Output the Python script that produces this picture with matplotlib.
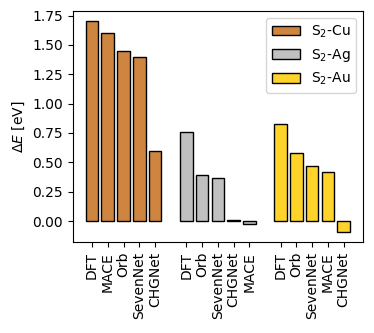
import numpy as np
import matplotlib
matplotlib.use('Agg')
import matplotlib.pyplot as plt

# model order differs per substrate (sorted by value)
cu_models = ['DFT', 'MACE', 'Orb', 'SevenNet', 'CHGNet']
cu_vals = [1.70, 1.60, 1.45, 1.40, 0.60]

ag_models = ['DFT', 'Orb', 'SevenNet', 'CHGNet', 'MACE']
ag_vals = [0.755, 0.395, 0.37, 0.005, -0.025]

au_models = ['DFT', 'Orb', 'SevenNet', 'MACE', 'CHGNet']
au_vals = [0.83, 0.58, 0.465, 0.42, -0.09]

groups = [('S$_2$-Cu', cu_models, cu_vals, '#CD853F'),
          ('S$_2$-Ag', ag_models, ag_vals, '#C0C0C0'),
          ('S$_2$-Au', au_models, au_vals, '#FFD42A')]

fig, ax = plt.subplots(figsize=(3.74, 3.33), dpi=100)

ticks = []
labels = []
offset = 0
for name, models, vals, col in groups:
    x = np.arange(len(models)) + offset
    ax.bar(x, vals, width=0.8, color=col, edgecolor='black', linewidth=1, label=name)
    ticks.extend(x)
    labels.extend(models)
    offset += len(models) + 1

ax.set_xticks(ticks)
ax.set_xticklabels(labels, rotation=90)
ax.set_ylabel(r'$\Delta E$ [eV]')
ax.legend(loc='upper right')

plt.subplots_adjust(left=0.194, right=0.971, bottom=0.273, top=0.967)
plt.savefig('out.png')
